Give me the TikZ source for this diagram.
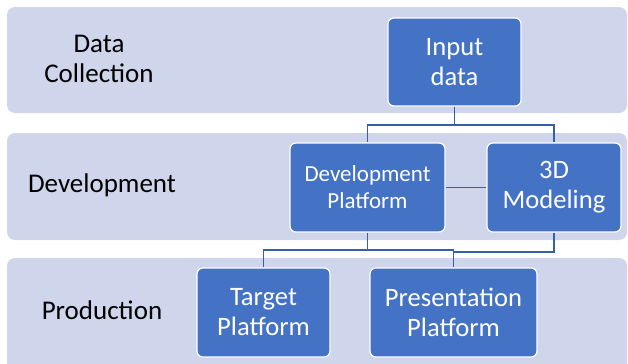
\documentclass[tikz,border=0pt]{standalone}
\usepackage{fontspec}
\setmainfont{Carlito}
\usepackage{tikz}

\definecolor{bandfill}{HTML}{CFD5EA}
\definecolor{boxfill}{HTML}{4472C4}
\definecolor{linkcol}{HTML}{3560A8}

\begin{document}
\begin{tikzpicture}[x=0.5pt, y=-0.5pt,
    band/.style={fill=bandfill, rounded corners=4pt},
    stage/.style={align=center, font=\fontsize{13.5pt}{15pt}\selectfont, text=black},
    block/.style={draw=white, line width=0.6pt, fill=boxfill, rounded corners=3pt,
        text=white, align=center, inner sep=0pt,
        font=\fontsize{13.3pt}{15pt}\selectfont},
    link/.style={draw=linkcol, line width=0.8pt}]
            \clip (0,0) rectangle (628,364);

            % the three bands
            \fill[band] (7,7) rectangle (627,113);
            \fill[band] (7,133) rectangle (627,240);
            \fill[band] (7,258) rectangle (627,380);

            \node[stage] (collect) at (99,59) {Data\\Collection};
            \node[stage] (develop) at (102,185) {Development};
            \node[stage] (produce) at (102,310) {Production};

            % the boxes
            \node[block, minimum width=66.5pt, minimum height=44pt] (input) at (454.5,62) {Input\\data};
            \node[block, minimum width=77.5pt, minimum height=44.5pt,
                font=\fontsize{11.5pt}{13.5pt}\selectfont] (devplat) at (367.5,187.5) {Development\\Platform};
            \node[block, minimum width=67pt, minimum height=44.5pt] (model) at (554,187.5) {3D\\Modeling};
            \node[block, minimum width=66.5pt, minimum height=44.5pt] (target) at (263.5,312.5) {Target\\Platform};
            \node[block, minimum width=83.5pt, minimum height=44.5pt] (present) at (453.5,312.5) {Presentation\\Platform};

            \coordinate (split1) at (454.5,125);
            \coordinate (split2) at (367.5,250);
            \coordinate (split3) at (554,252);

            \draw[link] (input.south) -- (split1) -| (devplat.north);
            \draw[link] (split1) -| (model.north);
            \draw[link] (devplat.east) -- (model.west);
            \draw[link] (devplat.south) -- (split2) -| (target.north);
            \draw[link] (split2) -| (present.north);
            \draw[link] (model.south) -- (split3) -| (present.north);

        \end{tikzpicture}
\end{document}
